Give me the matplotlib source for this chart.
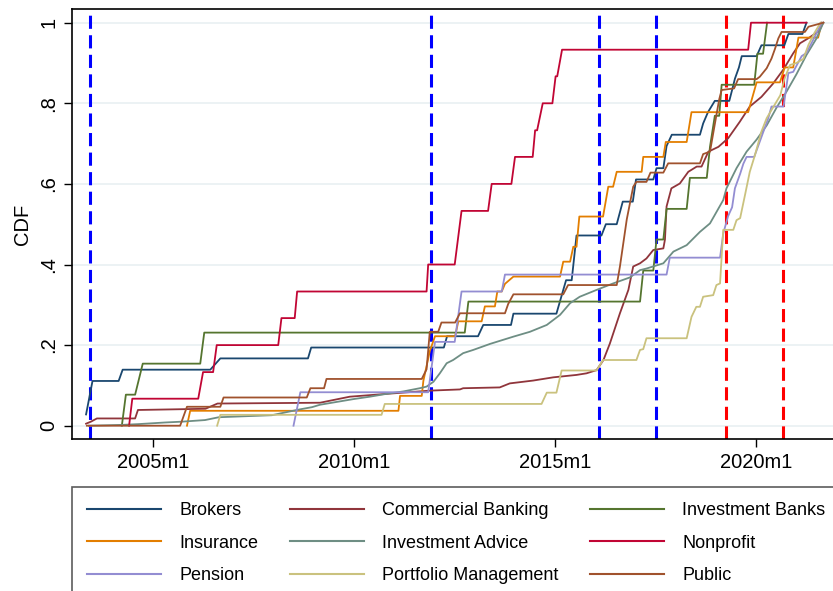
import matplotlib
matplotlib.use("Agg")
import matplotlib.pyplot as plt

plt.rcParams['font.family'] = ['Liberation Sans', 'DejaVu Sans']

# ---------------- data (decimal years, CDF values) ----------------
brokers_date = [2003.33, 2003.49, 2004.14, 2004.24, 2006.42, 2006.67, 2008.85, 2008.93, 2012.23, 2012.31,
                2013.08, 2013.21, 2013.90, 2013.96, 2015.03, 2015.27, 2015.41, 2015.53, 2016.15, 2016.26,
                2016.53, 2016.68, 2016.93, 2017.01, 2017.44, 2017.52, 2017.69, 2017.77, 2017.90, 2018.60,
                2018.68, 2018.80, 2018.97, 2019.33, 2019.40, 2019.47, 2019.57, 2019.64, 2020.01, 2020.13,
                2020.70, 2020.80, 2021.15, 2021.25]
brokers_cdf = [0.028, 0.111, 0.111, 0.139, 0.139, 0.167, 0.167, 0.194, 0.194, 0.222,
               0.222, 0.250, 0.250, 0.278, 0.278, 0.361, 0.361, 0.472, 0.472, 0.500,
               0.500, 0.556, 0.556, 0.611, 0.611, 0.639, 0.639, 0.694, 0.722, 0.722,
               0.750, 0.778, 0.806, 0.806, 0.833, 0.861, 0.889, 0.917, 0.917, 0.944,
               0.944, 0.972, 0.972, 1.000]

commercial_date = [2003.33, 2003.45, 2003.60, 2004.55, 2004.62, 2006.30, 2006.60, 2009.15, 2009.89, 2010.80,
                   2011.88, 2012.63, 2012.71, 2013.62, 2013.87, 2014.45, 2014.95, 2015.53, 2015.78, 2016.03,
                   2016.20, 2016.36, 2016.61, 2016.82, 2016.94, 2017.11, 2017.27, 2017.44, 2017.69, 2017.73,
                   2017.77, 2017.89, 2018.10, 2018.31, 2018.52, 2018.64, 2018.81, 2019.06, 2019.30, 2019.59,
                   2019.84, 2020.13, 2020.42, 2020.67, 2020.92, 2021.09, 2021.29, 2021.54, 2021.67]
commercial_cdf = [0.005, 0.010, 0.018, 0.018, 0.039, 0.042, 0.055, 0.057, 0.072, 0.079,
                  0.087, 0.090, 0.093, 0.095, 0.105, 0.112, 0.120, 0.126, 0.130, 0.138,
                  0.163, 0.204, 0.279, 0.337, 0.395, 0.403, 0.415, 0.436, 0.440, 0.462,
                  0.544, 0.589, 0.601, 0.630, 0.643, 0.643, 0.680, 0.692, 0.713, 0.754,
                  0.792, 0.816, 0.849, 0.883, 0.924, 0.949, 0.961, 0.978, 1.000]

invbanks_date = [2004.22, 2004.32, 2004.55, 2004.74, 2006.17, 2006.27, 2012.75, 2012.84, 2017.11, 2017.19,
                 2017.44, 2017.52, 2017.69, 2017.77, 2018.27, 2018.35, 2018.77, 2018.85, 2018.97, 2019.08,
                 2019.14, 2019.95, 2020.03, 2020.17, 2020.27]
invbanks_cdf = [0.000, 0.077, 0.077, 0.154, 0.154, 0.231, 0.231, 0.308, 0.308, 0.385,
                0.385, 0.462, 0.462, 0.538, 0.538, 0.615, 0.615, 0.692, 0.769, 0.769,
                0.846, 0.846, 0.923, 0.923, 1.000]

insurance_date = [2005.84, 2005.92, 2011.10, 2011.14, 2011.68, 2011.72, 2011.88, 2012.01, 2012.51, 2012.59,
                  2013.17, 2013.25, 2013.50, 2013.56, 2013.67, 2013.75, 2013.96, 2015.12, 2015.20, 2015.37,
                  2015.45, 2015.53, 2015.60, 2016.19, 2016.32, 2016.44, 2016.53, 2017.15, 2017.19, 2017.69,
                  2017.75, 2018.27, 2018.39, 2019.80, 2020.01, 2020.59, 2020.71, 2020.92, 2021.05, 2021.54,
                  2021.63]
insurance_cdf = [0.000, 0.037, 0.037, 0.074, 0.074, 0.111, 0.185, 0.222, 0.222, 0.259,
                 0.259, 0.296, 0.296, 0.333, 0.333, 0.352, 0.370, 0.370, 0.407, 0.407,
                 0.444, 0.444, 0.519, 0.519, 0.593, 0.593, 0.630, 0.630, 0.667, 0.667,
                 0.704, 0.704, 0.778, 0.778, 0.852, 0.852, 0.889, 0.889, 0.963, 0.963,
                 1.000]

advice_date = [2003.40, 2004.22, 2004.64, 2005.30, 2005.71, 2006.29, 2006.63, 2007.95, 2008.62, 2008.95,
               2009.15, 2009.98, 2010.39, 2010.80, 2011.22, 2011.63, 2011.80, 2011.97, 2012.13, 2012.30,
               2012.46, 2012.71, 2012.96, 2013.38, 2013.96, 2014.37, 2014.79, 2015.12, 2015.37, 2015.61,
               2016.03, 2016.44, 2016.86, 2017.11, 2017.27, 2017.69, 2017.94, 2018.27, 2018.60, 2018.85,
               2018.97, 2019.18, 2019.26, 2019.51, 2019.76, 2020.01, 2020.26, 2020.51, 2020.76, 2021.00,
               2021.25, 2021.50, 2021.67]
advice_cdf = [0.000, 0.002, 0.004, 0.008, 0.010, 0.014, 0.021, 0.026, 0.040, 0.046,
              0.052, 0.066, 0.072, 0.079, 0.085, 0.093, 0.097, 0.109, 0.130, 0.155,
              0.163, 0.180, 0.188, 0.203, 0.221, 0.233, 0.250, 0.275, 0.304, 0.320,
              0.337, 0.353, 0.368, 0.386, 0.390, 0.403, 0.432, 0.448, 0.481, 0.502,
              0.523, 0.560, 0.589, 0.639, 0.680, 0.710, 0.745, 0.790, 0.830, 0.872,
              0.920, 0.961, 1.000]

nonprofit_date = [2004.40, 2004.48, 2006.12, 2006.24, 2006.49, 2006.58, 2008.11, 2008.19, 2008.52, 2008.58,
                  2011.80, 2011.84, 2012.50, 2012.67, 2013.33, 2013.42, 2013.91, 2014.00, 2014.44, 2014.50,
                  2014.55, 2014.69, 2014.93, 2015.01, 2015.05, 2015.17, 2019.80, 2019.87, 2021.25]
nonprofit_cdf = [0.000, 0.067, 0.067, 0.133, 0.133, 0.200, 0.200, 0.267, 0.267, 0.333,
                 0.333, 0.400, 0.400, 0.533, 0.533, 0.600, 0.600, 0.667, 0.667, 0.733,
                 0.733, 0.800, 0.800, 0.867, 0.867, 0.933, 0.933, 1.000, 1.000]

pension_date = [2008.49, 2008.66, 2011.84, 2012.01, 2012.50, 2012.67, 2013.67, 2013.75, 2017.77, 2017.85,
                2019.10, 2019.18, 2019.30, 2019.40, 2019.47, 2019.60, 2019.68, 2019.76, 2019.95, 2020.30,
                2020.38, 2020.68, 2020.80, 2020.92, 2021.13, 2021.25, 2021.42, 2021.63]
pension_cdf = [0.000, 0.083, 0.083, 0.208, 0.208, 0.333, 0.333, 0.375, 0.375, 0.417,
               0.417, 0.477, 0.520, 0.542, 0.589, 0.625, 0.650, 0.667, 0.667, 0.763,
               0.792, 0.792, 0.875, 0.878, 0.917, 0.925, 0.958, 1.000]

portfolio_date = [2006.59, 2006.67, 2010.68, 2010.76, 2014.66, 2014.79, 2015.03, 2015.16, 2016.03, 2016.19,
                  2017.02, 2017.11, 2017.19, 2017.27, 2018.27, 2018.39, 2018.51, 2018.60, 2018.68, 2018.93,
                  2019.01, 2019.10, 2019.18, 2019.43, 2019.51, 2019.60, 2019.72, 2019.84, 2019.97, 2020.13,
                  2020.26, 2020.42, 2020.60, 2020.70, 2020.84, 2021.00, 2021.17, 2021.30, 2021.45, 2021.60]
portfolio_cdf = [0.000, 0.027, 0.027, 0.054, 0.054, 0.082, 0.082, 0.137, 0.137, 0.163,
                 0.163, 0.188, 0.190, 0.217, 0.217, 0.270, 0.295, 0.295, 0.320, 0.324,
                 0.349, 0.353, 0.486, 0.486, 0.510, 0.515, 0.572, 0.630, 0.672, 0.730,
                 0.763, 0.790, 0.820, 0.860, 0.895, 0.900, 0.910, 0.945, 0.975, 1.000]

public_date = [2003.35, 2005.67, 2005.84, 2006.67, 2006.75, 2008.82, 2008.91, 2009.25, 2009.31, 2011.68,
               2011.80, 2011.88, 2012.09, 2012.17, 2012.51, 2012.63, 2013.75, 2013.83, 2013.96, 2015.20,
               2015.32, 2016.53, 2016.61, 2016.78, 2016.94, 2017.02, 2017.27, 2017.37, 2017.69, 2017.81,
               2018.60, 2018.68, 2018.85, 2019.01, 2019.08, 2019.14, 2019.45, 2019.55, 2020.01, 2020.09,
               2020.26, 2020.38, 2020.47, 2020.55, 2020.63, 2021.21, 2021.30, 2021.67]
public_cdf = [0.000, 0.000, 0.047, 0.047, 0.070, 0.070, 0.093, 0.093, 0.116, 0.116,
              0.140, 0.233, 0.233, 0.256, 0.256, 0.279, 0.279, 0.302, 0.326, 0.326,
              0.349, 0.349, 0.395, 0.512, 0.593, 0.605, 0.605, 0.628, 0.628, 0.651,
              0.651, 0.674, 0.680, 0.771, 0.810, 0.833, 0.837, 0.860, 0.860, 0.866,
              0.887, 0.911, 0.936, 0.961, 0.977, 0.977, 0.990, 1.000]

series_names = ["Brokers", "Commercial Banking", "Investment Banks", "Insurance", "Investment Advice",
                "Nonprofit", "Pension", "Portfolio Management", "Public"]
series_dates = [brokers_date, commercial_date, invbanks_date, insurance_date, advice_date,
                nonprofit_date, pension_date, portfolio_date, public_date]
series_cdfs = [brokers_cdf, commercial_cdf, invbanks_cdf, insurance_cdf, advice_cdf,
               nonprofit_cdf, pension_cdf, portfolio_cdf, public_cdf]
series_colors = ["#1a476f", "#90353b", "#55752f", "#e37e00", "#6e8e84",
                 "#c10534", "#938dd2", "#cac27e", "#a0522d"]

blue_events = ["2003m6", "2011m12", "2016m2", "2017m7"]
red_events = ["2019m4", "2020m9"]

x_ticks = [2005, 2010, 2015, 2020]
x_tick_labels = ["2005m1", "2010m1", "2015m1", "2020m1"]
y_ticks = [0, 0.2, 0.4, 0.6, 0.8, 1.0]
y_tick_labels = ["0", ".2", ".4", ".6", ".8", "1"]


def month_to_year(s):
    y, m = s.split("m")
    return int(y) + (int(m) - 1) / 12.0


# ---------------- figure ----------------
W, H = 833, 591
fig = plt.figure(figsize=(W / 100, H / 100), dpi=100)
fig.patch.set_facecolor("white")
ax = fig.add_axes([72 / W, 1 - 439 / H, 1 - 72 / W, (439 - 9) / H])

ax.set_xlim(2002.98, 2021.91)
ax.set_ylim(-0.033, 1.034)

for yv in y_ticks:
    ax.axhline(yv, color="#eaf1f3", lw=1.3, zorder=0)

dash = (0, (4.3, 2.1))
for s in blue_events:
    ax.axvline(month_to_year(s), color="#0000ff", lw=2.2, linestyle=dash, zorder=1)
for s in red_events:
    ax.axvline(month_to_year(s), color="#ff0000", lw=2.2, linestyle=dash, zorder=1)

handles = {}
for name, d, c, col in zip(series_names, series_dates, series_cdfs, series_colors):
    ln, = ax.plot(d, c, color=col, lw=1.3, zorder=2, label=name)
    handles[name] = ln

ax.set_xticks(x_ticks)
ax.set_xticklabels(x_tick_labels, fontsize=14.5)
ax.set_yticks(y_ticks)
ax.set_yticklabels(y_tick_labels, fontsize=14.5, rotation=90, va="center")
ax.tick_params(axis="both", direction="out", length=6, width=1, color="black", pad=4)
ax.set_ylabel("CDF", fontsize=14.5, labelpad=5)

for sp in ["left", "bottom", "top"]:
    ax.spines[sp].set_linewidth(1.2)
    ax.spines[sp].set_color("black")
ax.spines["right"].set_visible(False)

# legend: row-major in reference -> reorder for matplotlib's column-major filling
order = ["Brokers", "Insurance", "Pension",
         "Commercial Banking", "Investment Advice", "Portfolio Management",
         "Investment Banks", "Nonprofit", "Public"]
leg = fig.legend([handles[n] for n in order], order, loc="upper left",
                 bbox_to_anchor=(72 / W, 1 - 487 / H), ncol=3, fontsize=13,
                 handlelength=4.1, handletextpad=1.0, columnspacing=1.75,
                 labelspacing=0.85, borderpad=0.85, borderaxespad=0,
                 frameon=True, fancybox=False)
leg.get_frame().set_edgecolor("#333333")
leg.get_frame().set_linewidth(1.2)
for l in leg.get_lines():
    l.set_linewidth(1.5)

fig.savefig("out.png", dpi=100, facecolor="white")
